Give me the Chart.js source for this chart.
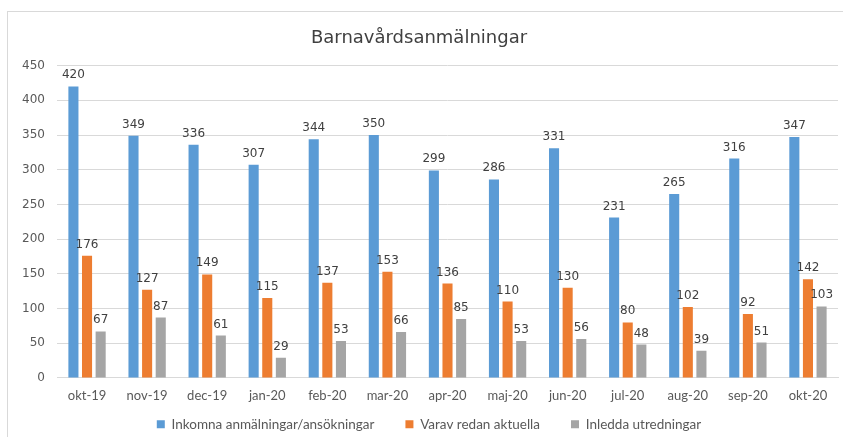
<!DOCTYPE html>
<html>
<head>
<meta charset="utf-8">
<script src="https://cdn.jsdelivr.net/npm/chart.js@4"></script>
<style>
  body { margin: 0; background: #fff; }
  #wrap { position: relative; width: 843px; height: 437px; overflow: hidden; }
  #frame { position: absolute; left: 7px; top: 11px; width: 845px; height: 450px; border: 1px solid #d9d9d9; }
  canvas { position: absolute; left: 0; top: 0; }
</style>
</head>
<body>
<div id="wrap">
  <div id="frame"></div>
  <canvas id="chart" width="843" height="437"></canvas>
</div>
<script>
const months = ['okt-19', 'nov-19', 'dec-19', 'jan-20', 'feb-20', 'mar-20', 'apr-20', 'maj-20', 'jun-20', 'jul-20', 'aug-20', 'sep-20', 'okt-20'];
const inkomna = [420, 349, 336, 307, 344, 350, 299, 286, 331, 231, 265, 316, 347];
const redanAktuella = [176, 127, 149, 115, 137, 153, 136, 110, 130, 80, 102, 92, 142];
const inleddaUtredningar = [67, 87, 61, 29, 53, 66, 85, 53, 56, 48, 39, 51, 103];

const wideFont = '"DejaVu Sans", sans-serif';
const textFont = 'Lato, sans-serif';

// value above each bar, like Excel's "outside end" labels
const valueLabels = {
  id: 'valueLabels',
  afterDatasetsDraw(chart) {
    const ctx = chart.ctx;
    ctx.save();
    ctx.font = '12px ' + wideFont;
    ctx.fillStyle = '#404040';
    ctx.textAlign = 'center';
    ctx.textBaseline = 'alphabetic';
    chart.data.datasets.forEach((ds, i) => {
      chart.getDatasetMeta(i).data.forEach((bar, j) => {
        ctx.fillText(ds.data[j], bar.x, bar.y - 8);
      });
    });
    ctx.restore();
  }
};

// legend sits a little right of the canvas centre in the original
const legendShift = {
  id: 'legendShift',
  afterLayout(chart) {
    chart.legend.left += 10;
    chart.legend.right += 10;
  }
};

new Chart(document.getElementById('chart'), {
  type: 'bar',
  data: {
    labels: months,
    datasets: [
      { label: 'Inkomna anmälningar/ansökningar', data: inkomna, backgroundColor: '#5B9BD5' },
      { label: 'Varav redan aktuella', data: redanAktuella, backgroundColor: '#ED7D31' },
      { label: 'Inledda utredningar', data: inleddaUtredningar, backgroundColor: '#A5A5A5' }
    ]
  },
  options: {
    responsive: false,
    animation: false,
    layout: { padding: { left: 0, right: 5, top: 0, bottom: -4 } },
    datasets: { bar: { categoryPercentage: 0.68, barPercentage: 0.74 } },
    plugins: {
      title: {
        display: true,
        text: 'Barnavårdsanmälningar',
        color: '#404040',
        font: { family: wideFont, size: 18, weight: 'normal' },
        padding: { top: 28, bottom: 16 }
      },
      legend: {
        position: 'bottom',
        labels: {
          boxWidth: 8,
          boxHeight: 8,
          padding: 4,
          color: '#595959',
          font: { family: textFont, size: 13.5 },
          // small padding keeps the legend close to the axis; the wider gap between items comes from trailing spaces
          generateLabels(chart) {
            const items = Chart.defaults.plugins.legend.labels.generateLabels(chart);
            items.forEach((item, i) => {
              if (i < items.length - 1) item.text += '\u2003\u2003\u2002';
            });
            return items;
          }
        }
      },
      tooltip: { enabled: false }
    },
    scales: {
      x: {
        grid: { display: false, drawTicks: false },
        border: { color: '#d9d9d9' },
        ticks: { color: '#595959', padding: 10, maxRotation: 0, font: { family: textFont, size: 13 } }
      },
      y: {
        min: 0,
        max: 450,
        grid: { color: '#d9d9d9', drawTicks: false },
        border: { display: false },
        ticks: { stepSize: 50, color: '#595959', padding: 12, font: { family: wideFont, size: 12 } },
        afterFit(scale) { scale.width = 57; }
      }
    }
  },
  plugins: [valueLabels, legendShift]
});
</script>
</body>
</html>
